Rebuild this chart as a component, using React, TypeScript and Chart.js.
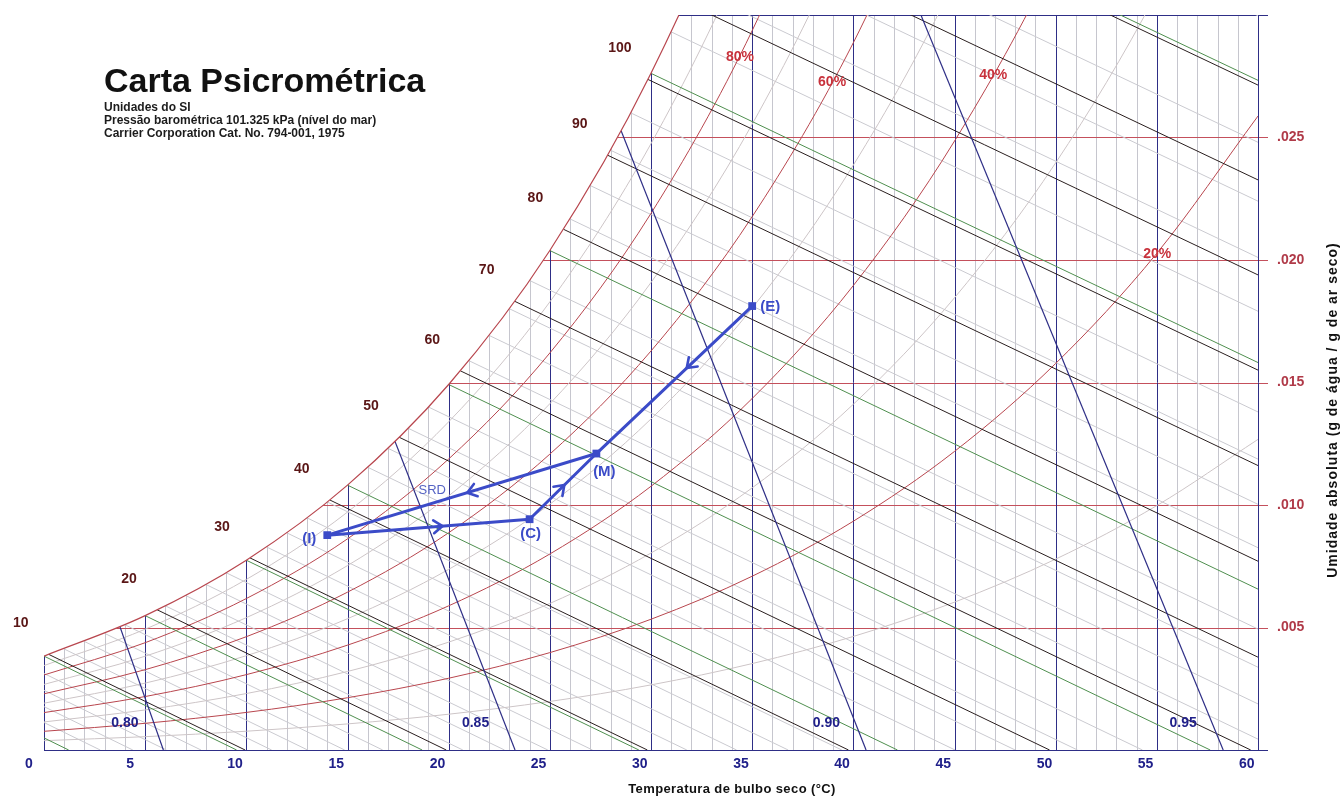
import React, { useEffect, useRef } from 'react';
import { Chart, registerables } from 'chart.js';

Chart.register(...registerables);

const FONT = 'Arial, "Liberation Sans", Helvetica, sans-serif';

const NAVY = '#2e2e86';
const GRID_LIGHT = '#c6c6ce';
const RED_GRID = '#c4505c';
const RED_CURVE = '#b8464e';
const GRAY_CURVE = '#cdc5c7';
const GRAY_WB = '#cacad0';
const GREEN = '#4f8f4f';
const DARK = '#2a1f1f';
const BLUE = '#3b4bc8';

// Dry-bulb temperatures (°C) at which the relative-humidity curves are tabulated
const tempSteps = [0, 5, 10, 15, 20, 25, 30, 35, 40, 45, 50, 55, 60];

// Humidity ratio (kg water / kg dry air) along each relative-humidity curve
const rh100 = [0.003832, 0.005484, 0.007746, 0.01081, 0.014919, 0.020387, 0.027618, 0.037133, 0.049627];
const rh90 = [0.003447, 0.004931, 0.006963, 0.009712, 0.013396, 0.01829, 0.024748, 0.033224, 0.044316];
const rh80 = [0.003062, 0.00438, 0.006182, 0.008618, 0.011879, 0.016205, 0.021903, 0.029361, 0.039087];
const rh70 = [0.002677, 0.003829, 0.005403, 0.007528, 0.01037, 0.014134, 0.019082, 0.025542, 0.033939, 0.044817];
const rh60 = [0.002294, 0.003279, 0.004625, 0.006442, 0.008868, 0.012076, 0.016286, 0.021768, 0.028869, 0.038029];
const rh50 = [0.00191, 0.00273, 0.00385, 0.005359, 0.007373, 0.010032, 0.013513, 0.018036, 0.023875, 0.031376, 0.040979];
const rh40 = [0.001527, 0.002182, 0.003076, 0.00428, 0.005884, 0.008, 0.010764, 0.014347, 0.018957, 0.024854, 0.032362, 0.041893];
const rh30 = [0.001145, 0.001635, 0.002304, 0.003205, 0.004403, 0.005981, 0.008039, 0.010699, 0.014112, 0.018458, 0.023965, 0.030907, 0.039626];
const rh20 = [0.000763, 0.001089, 0.001534, 0.002133, 0.002929, 0.003975, 0.005337, 0.007093, 0.009338, 0.012187, 0.015777, 0.020274, 0.025876];
const rh10 = [0.000381, 0.000544, 0.000766, 0.001065, 0.001461, 0.001981, 0.002657, 0.003527, 0.004635, 0.006035, 0.007791, 0.009977, 0.012678];

// Dry-bulb grid (°C) and humidity-ratio grid (kg/kg)
const dryBulbMajor = [0, 5, 10, 15, 20, 25, 30, 35, 40, 45, 50, 55, 60];
const humidityLines = [0, 0.005, 0.01, 0.015, 0.02, 0.025, 0.03];

// Wet-bulb lines: start on saturation (Twb, Ws), end on the dry-air axis
const wetBulbTemps = [-5, -4, -3, -2, -1, 0, 1, 2, 3, 4, 5, 6, 7, 8, 9, 10, 11, 12, 13, 14, 15, 16, 17, 18, 19, 20, 21, 22, 23, 24, 25, 26, 27, 28, 29, 30, 31, 32, 33, 34, 35, 36];
const wetBulbSatW = [0.002513, 0.002737, 0.00298, 0.003242, 0.003526, 0.003832, 0.004121, 0.004429, 0.004759, 0.00511, 0.005484, 0.005883, 0.006306, 0.006757, 0.007236, 0.007746, 0.008287, 0.008863, 0.009474, 0.010123, 0.01081, 0.01154, 0.012313, 0.013132, 0.014, 0.014919, 0.015891, 0.016921, 0.018011, 0.019164, 0.020387, 0.021675, 0.023038, 0.024481, 0.026004, 0.027618, 0.02931, 0.031106, 0.033002, 0.035004, 0.037134, 0.039371];
const wetBulbFootT = [1.22, 2.78, 4.39, 6.05, 7.76, 9.52, 11.25, 13.03, 14.86, 16.74, 18.69, 20.7, 22.76, 24.9, 27.11, 29.4, 31.77, 34.23, 36.78, 39.43, 42.18, 45.03, 48.0, 51.08, 54.29, 57.64, 61.12, 64.75, 68.54, 72.49, 76.63, 80.92, 85.43, 90.13, 95.04, 100.19, 105.55, 111.17, 117.06, 123.22, 129.72, 136.5];

// Enthalpy lines (kJ/kg dry air)
const enthalpyValues = [10, 20, 30, 40, 50, 60, 70, 80, 90, 100, 110, 120, 130];
const enthalpySatT = [0.24, 5.59, 10.18, 14.12, 17.55, 20.57, 23.26, 25.67, 27.86, 29.85, 31.67, 33.36, 34.92];
const enthalpySatW = [0.003901, 0.005724, 0.007841, 0.010207, 0.012766, 0.01548, 0.018316, 0.021256, 0.024276, 0.02737, 0.030525, 0.033726, 0.036972];
const enthalpyFootT = [9.94, 19.88, 29.82, 39.76, 49.7, 59.64, 69.58, 79.52, 89.46, 99.4, 109.34, 119.28, 129.22];

// Specific volume lines (m³/kg): dry-bulb where each meets W = 0 and W = 0.030
const volumeValues = [0.8, 0.85, 0.9, 0.95];
const volumeFootT = [5.9, 23.28, 40.63, 58.28];
const volumeTopT = [-6.9, 9.15, 26.26, 43.34];

// Relative-humidity captions
const rhLabelText = ['80%', '60%', '40%', '20%'];
const rhLabelT = [34.4, 38.95, 46.91, 55.02];
const rhLabelW = [0.02829, 0.02724, 0.02756, 0.02024];

// Air-conditioning process states
const processLabels = ['(I)', '(C)', '(M)', '(E)'];
const processT = [14.0, 24.0, 27.3, 35.0];
const processW = [0.00877, 0.00942, 0.0121, 0.01812];
const segmentFrom = [0, 1, 3, 2];
const segmentTo = [1, 2, 2, 0];
const arrowAt = [0.57, 0.52, 0.42, 0.48];
const processLabelDx = [-18, 1, 8, 18];
const processLabelDy = [4, 15, 18, 1];

const SATURATION = 'saturation';

const overlay = {
  id: 'psychroOverlay',
  // dry-bulb and humidity-ratio grid
  beforeDatasetsDraw(chart: any) {
    const { ctx, chartArea: a } = chart;
    const xs = chart.scales.x;
    const ys = chart.scales.y;
    const seg = (x1: number, y1: number, x2: number, y2: number, color: string) => {
      ctx.strokeStyle = color;
      ctx.beginPath();
      ctx.moveTo(x1, y1);
      ctx.lineTo(x2, y2);
      ctx.stroke();
    };
    ctx.save();
    ctx.lineWidth = 1;
    for (let t = 0; t <= 60; t++) {
      if (dryBulbMajor.includes(t)) continue;
      const x = Math.round(xs.getPixelForValue(t)) + 0.5;
      seg(x, a.top, x, a.bottom, GRID_LIGHT);
    }
    humidityLines.forEach((w, i) => {
      const y = Math.round(ys.getPixelForValue(w)) + 0.5;
      const edge = i === 0 || i === humidityLines.length - 1;
      seg(a.left, y, a.right + 10, y, edge ? NAVY : RED_GRID);
    });
    dryBulbMajor.forEach((t) => {
      const x = Math.round(xs.getPixelForValue(t)) + 0.5;
      seg(x, a.top, x, a.bottom, NAVY);
    });
    ctx.restore();
  },
  // blank out everything above the saturation curve
  beforeDatasetDraw(chart: any, args: any) {
    const ds = chart.data.datasets[args.index];
    if (!ds || ds.label !== SATURATION) return;
    const { ctx, chartArea: a } = chart;
    const line = args.meta.dataset;
    const pts = line.points;
    if (!pts || !pts.length) return;
    ctx.save();
    ctx.beginPath();
    ctx.rect(a.left - 2, a.top - 2, a.right - a.left + 2, a.bottom - a.top + 2);
    ctx.clip();
    ctx.beginPath();
    line.path(ctx);
    const last = pts[pts.length - 1];
    ctx.lineTo(last.x, a.top - 4);
    ctx.lineTo(a.left - 4, a.top - 4);
    ctx.lineTo(a.left - 4, pts[0].y);
    ctx.closePath();
    ctx.fillStyle = '#ffffff';
    ctx.fill();
    ctx.restore();
  },
  afterDatasetsDraw(chart: any) {
    const { ctx } = chart;
    const xs = chart.scales.x;
    const ys = chart.scales.y;
    const px = (t: number) => xs.getPixelForValue(t);
    const py = (w: number) => ys.getPixelForValue(w);
    ctx.save();
    ctx.strokeStyle = BLUE;
    ctx.lineWidth = 2.6;
    ctx.lineCap = 'round';
    ctx.lineJoin = 'round';
    segmentFrom.forEach((a, i) => {
      const b = segmentTo[i];
      const ax = px(processT[a]);
      const ay = py(processW[a]);
      const bx = px(processT[b]);
      const by = py(processW[b]);
      const f = arrowAt[i];
      const tx = ax + (bx - ax) * f;
      const ty = ay + (by - ay) * f;
      const ang = Math.atan2(by - ay, bx - ax);
      const len = 11;
      const spread = 0.62;
      ctx.beginPath();
      ctx.moveTo(tx - len * Math.cos(ang - spread), ty - len * Math.sin(ang - spread));
      ctx.lineTo(tx, ty);
      ctx.lineTo(tx - len * Math.cos(ang + spread), ty - len * Math.sin(ang + spread));
      ctx.stroke();
    });
    ctx.restore();
  },
  afterDraw(chart: any) {
    const { ctx } = chart;
    const xs = chart.scales.x;
    const ys = chart.scales.y;
    const px = (t: number) => xs.getPixelForValue(t);
    const py = (w: number) => ys.getPixelForValue(w);
    const put = (s: string, x: number, y: number, font: string, color: string, align: CanvasTextAlign = 'center', baseline: CanvasTextBaseline = 'middle', spacing = '0px') => {
      ctx.font = font;
      ctx.fillStyle = color;
      ctx.textAlign = align;
      ctx.textBaseline = baseline;
      (ctx as any).letterSpacing = spacing;
      ctx.fillText(s, x, y);
    };
    ctx.save();

    // heading
    put('Carta Psicrométrica', 104, 92, `bold 34px ${FONT}`, '#111111', 'left', 'alphabetic');
    put('Unidades do SI', 104, 111, `bold 12px ${FONT}`, '#1c1c1c', 'left', 'alphabetic');
    put('Pressão barométrica 101.325 kPa (nível do mar)', 104, 124, `bold 12px ${FONT}`, '#1c1c1c', 'left', 'alphabetic');
    put('Carrier Corporation Cat. No. 794-001, 1975', 104, 137, `bold 12px ${FONT}`, '#1c1c1c', 'left', 'alphabetic');

    // enthalpy scale beside the saturation curve
    enthalpyValues.forEach((h, i) => {
      if (enthalpySatW[i] > 0.03) return;
      put(String(h), px(enthalpySatT[i]) - 28, py(enthalpySatW[i]) - 31, `bold 14px ${FONT}`, '#5a1616');
    });

    // relative humidity captions
    rhLabelText.forEach((s, i) => {
      put(s, px(rhLabelT[i]), py(rhLabelW[i]), `bold 14px ${FONT}`, '#c8323c');
    });

    // specific volume captions
    const capW = 0.0011;
    volumeValues.forEach((v, i) => {
      const t = volumeFootT[i] + (volumeTopT[i] - volumeFootT[i]) * (capW / 0.03);
      put(v.toFixed(2), px(t) - 29, py(capW), `bold 14px ${FONT}`, '#20208a');
    });

    // process state names
    processLabels.forEach((s, i) => {
      put(s, px(processT[i]) + processLabelDx[i], py(processW[i]) + processLabelDy[i], `bold 15px ${FONT}`, BLUE);
    });
    {
      const a = 2;
      const b = 0;
      const f = 0.61;
      const x = px(processT[a]) + (px(processT[b]) - px(processT[a])) * f;
      const y = py(processW[a]) + (py(processW[b]) - py(processW[a])) * f;
      put('SRD', x, y - 13, `13px ${FONT}`, '#5563c4');
    }

    // axis titles
    put('Temperatura de bulbo seco (°C)', 732, 793, `bold 13px ${FONT}`, '#111111', 'center', 'alphabetic', '0.4px');
    ctx.save();
    ctx.translate(1337, 410);
    ctx.rotate(-Math.PI / 2);
    put('Umidade absoluta (g de água / g de ar seco)', 0, 0, `bold 14px ${FONT}`, '#111111', 'center', 'alphabetic', '1px');
    ctx.restore();

    ctx.restore();
  },
};

export default function App() {
  const canvasRef = useRef<HTMLCanvasElement | null>(null);

  useEffect(() => {
    const canvas = canvasRef.current;
    if (!canvas) return;

    const datasets: any[] = [];
    const addLine = (data: { x: number; y: number }[], color: string, width: number, order: number, extra: any = {}) => {
      datasets.push({
        data,
        borderColor: color,
        borderWidth: width,
        showLine: true,
        pointRadius: 0,
        pointHoverRadius: 0,
        fill: false,
        order,
        ...extra,
      });
    };
    const curve = (values: number[]) => values.map((w, i) => ({ x: tempSteps[i], y: w }));

    // wet-bulb lines (every 1 °C, every 5 °C highlighted)
    wetBulbTemps.forEach((t, i) => {
      const major = t % 5 === 0;
      addLine(
        [
          { x: t, y: wetBulbSatW[i] },
          { x: wetBulbFootT[i], y: 0 },
        ],
        major ? GREEN : GRAY_WB,
        1,
        major ? 20 : 40
      );
    });

    // relative humidity curves
    const rhSets: [number, number[]][] = [
      [10, rh10],
      [20, rh20],
      [30, rh30],
      [40, rh40],
      [50, rh50],
      [60, rh60],
      [70, rh70],
      [80, rh80],
      [90, rh90],
    ];
    rhSets.forEach(([rh, values]) => {
      const major = rh % 20 === 0;
      addLine(curve(values), major ? RED_CURVE : GRAY_CURVE, 1, major ? 25 : 35, { cubicInterpolationMode: 'monotone' });
    });

    // enthalpy lines
    enthalpyValues.forEach((h, i) => {
      addLine(
        [
          { x: enthalpySatT[i], y: enthalpySatW[i] },
          { x: enthalpyFootT[i], y: 0 },
        ],
        DARK,
        1,
        15
      );
    });

    // specific volume lines
    volumeValues.forEach((v, i) => {
      addLine(
        [
          { x: volumeTopT[i], y: 0.03 },
          { x: volumeFootT[i], y: 0 },
        ],
        NAVY,
        1.2,
        10
      );
    });

    // saturation curve (100 %)
    addLine(curve(rh100), RED_CURVE, 1.2, 5, {
      label: SATURATION,
      cubicInterpolationMode: 'monotone',
    });

    // process lines
    segmentFrom.forEach((a, i) => {
      const b = segmentTo[i];
      addLine(
        [
          { x: processT[a], y: processW[a] },
          { x: processT[b], y: processW[b] },
        ],
        BLUE,
        3,
        1,
        { borderCapStyle: 'round' }
      );
    });
    datasets.push({
      data: processT.map((t, i) => ({ x: t, y: processW[i] })),
      showLine: false,
      pointStyle: 'rect',
      pointRadius: 5.5,
      pointHoverRadius: 5.5,
      backgroundColor: BLUE,
      borderColor: BLUE,
      borderWidth: 0,
      order: 0,
    });

    const chart = new Chart(canvas, {
      type: 'scatter',
      data: { datasets },
      plugins: [overlay],
      options: {
        animation: false,
        responsive: false,
        devicePixelRatio: 1,
        events: [],
        layout: { padding: { left: 44, top: 15, right: 0, bottom: 0 } },
        elements: { line: { capBezierPoints: false, tension: 0 } },
        plugins: { legend: { display: false }, tooltip: { enabled: false }, title: { display: false } },
        scales: {
          x: {
            type: 'linear',
            position: 'bottom',
            min: 0,
            max: 60,
            afterFit: (scale: any) => {
              scale.height = 47;
            },
            ticks: {
              stepSize: 5,
              autoSkip: false,
              maxRotation: 0,
              align: 'start',
              labelOffset: -19,
              padding: 6,
              color: '#20208a',
              font: { family: FONT, size: 14, weight: 'bold' },
            },
            grid: { display: false, drawTicks: false },
            border: { display: false },
          },
          y: {
            type: 'linear',
            position: 'right',
            min: 0,
            max: 0.03,
            afterFit: (scale: any) => {
              scale.width = 82;
            },
            ticks: {
              stepSize: 0.005,
              padding: 0,
              color: '#b03a48',
              font: { family: FONT, size: 14, weight: 'bold' },
              callback: (v: any) => {
                const n = Number(v);
                if (Math.abs(n) < 1e-9 || n > 0.0299) return '';
                return n.toFixed(3).replace(/^0/, '');
              },
            },
            grid: { display: false, drawTicks: true, tickLength: 19 },
            border: { display: false },
          },
        },
      } as any,
    });

    return () => {
      chart.destroy();
    };
  }, []);

  return (
    <div style={{ position: 'absolute', left: 0, top: 0, width: 1340, height: 797, background: '#ffffff' }}>
      <canvas ref={canvasRef} width={1340} height={797} style={{ display: 'block' }} />
    </div>
  );
}
